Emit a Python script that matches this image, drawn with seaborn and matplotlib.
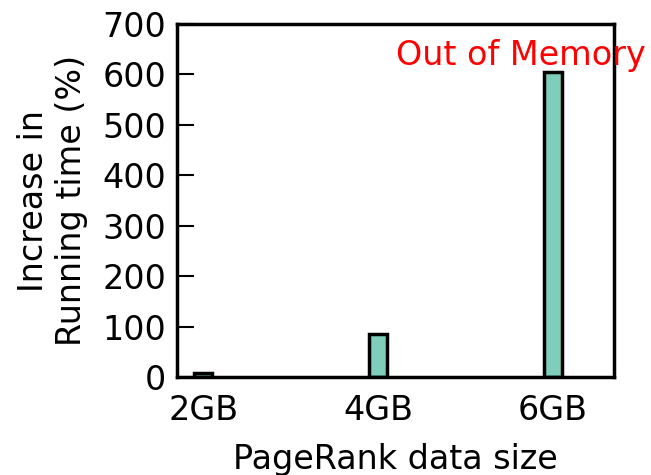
import pandas as pd
import matplotlib
matplotlib.use('Agg')
import matplotlib.pyplot as plt
import seaborn as sns

sizes = ['2GB', '4GB', '6GB']
increase = [7, 85, 605]

df = pd.DataFrame({'size': sizes, 'increase': increase})

sns.set_style('white')
plt.rcParams['font.family'] = ['DejaVu Sans']
plt.rcParams['text.color'] = 'black'
plt.rcParams['axes.labelcolor'] = 'black'
plt.rcParams['xtick.color'] = 'black'
plt.rcParams['ytick.color'] = 'black'

fig = plt.figure(figsize=(6.51, 4.75), dpi=100)
ax = fig.add_axes([177 / 651, 1 - 377 / 475, (614 - 177) / 651, (377 - 24) / 475])

sns.barplot(data=df, x='size', y='increase', color='#7fcdbb', saturation=1,
            width=0.1, edgecolor='black', linewidth=2.5, ax=ax)

ax.set_xlim(-0.15, 2.35)
ax.set_ylim(0, 700)
ax.set_yticks(range(0, 701, 100))
ax.set_xlabel('PageRank data size', fontsize=24, labelpad=12)
ax.set_ylabel('Increase in\nRunning time (%)', fontsize=24, labelpad=10)
ax.tick_params(axis='y', direction='in', length=12, width=1.5, labelsize=24, left=True, pad=8)
ax.tick_params(axis='x', length=0, labelsize=24, pad=12)
for s in ax.spines.values():
    s.set_linewidth(2.5)
    s.set_color('black')

ax.text(1.82, 638, 'Out of Memory', color='red', fontsize=24, ha='center', va='center', clip_on=False)

fig.savefig('out.png', dpi=100)
